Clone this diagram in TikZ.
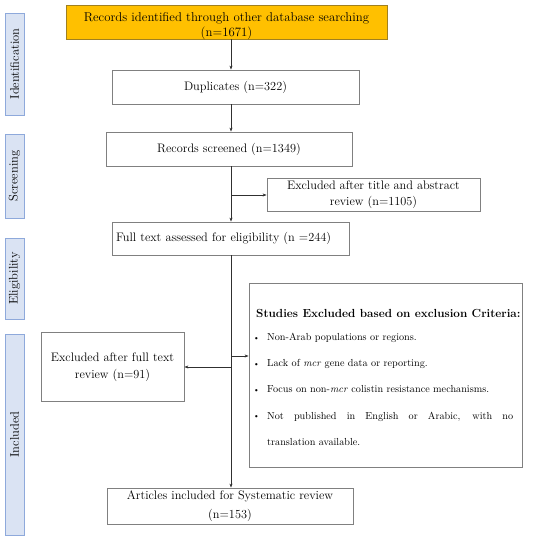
\documentclass[tikz,border=0pt]{standalone}
\usetikzlibrary{arrows.meta}
\definecolor{gold}{HTML}{FFC000}
\definecolor{goldline}{HTML}{A08020}
\definecolor{boxline}{HTML}{808080}
\definecolor{sidefill}{HTML}{DAE3F3}
\definecolor{sideline}{HTML}{8EA9DB}
\definecolor{lin}{HTML}{303030}
\begin{document}
\begin{tikzpicture}[x=1pt,y=-1pt,
  box/.style={draw=boxline,line width=0.8pt,fill=white,inner sep=0pt,align=center,font=\fontsize{12.3}{16}\selectfont},
  side/.style={draw=sideline,line width=0.8pt,fill=sidefill,inner sep=0pt},
  sidetext/.style={rotate=90,font=\fontsize{12.5}{14}\selectfont},
  arr/.style={draw=lin,line width=0.9pt,-{Stealth[length=4pt,width=3pt]}},
  crit/.style={anchor=base west,inner sep=0pt,font=\fontsize{10.2}{12}\selectfont}]
\useasboundingbox (0,0) rectangle (550,541);
% side bars
\node[side,minimum width=19pt,minimum height=102pt] (sid) at (14.5,64) {};
\node[sidetext] (sidt) at (sid.center) {Identification};
\node[side,minimum width=19pt,minimum height=84pt] (sscr) at (14.5,176) {};
\node[sidetext] (sscrt) at (sscr.center) {Screening};
\node[side,minimum width=19pt,minimum height=81pt] (sel) at (14.5,278.5) {};
\node[sidetext] (selt) at (sel.center) {Eligibility};
\node[side,minimum width=19pt,minimum height=201pt] (sin) at (14.5,434.5) {};
\node[sidetext] (sint) at (sin.center) {Included};
% trunk x
\coordinate (T) at (231,0);
% boxes
\node[box,draw=goldline,fill=gold,minimum width=321pt,minimum height=34pt] (top) at (226.5,22) {};
\node[align=center,inner sep=0pt,font=\fontsize{12.8}{14.3}\selectfont] (topt) at (226.5,26) {Records identified through other database searching\\(n=1671)};
\node[box,minimum width=247pt,minimum height=34pt] (dup) at (235.5,87) {Duplicates (n=322)};
\node[box,minimum width=246pt,minimum height=34pt] (scr) at (229,149) {Records screened (n=1349)};
\node[box,minimum width=213pt,minimum height=33pt,font=\fontsize{12.3}{16}\selectfont] (ex1) at (373.5,194.5) {Excluded after title and abstract\\review (n=1105)};
\node[box,minimum width=237pt,minimum height=33pt,text width=229pt,align=left] (full) at (230.5,238.5) {Full text assessed for eligibility (n =244)};
\node[box,minimum width=143pt,minimum height=69pt,font=\fontsize{12.3}{17}\selectfont] (ex2) at (112.5,367) {Excluded after full text\\review (n=91)};
\node[box,minimum width=273pt,minimum height=184pt] (cri) at (385.5,375) {};
\node[box,minimum width=246pt,minimum height=36pt,font=\fontsize{12.3}{18.4}\selectfont] (art) at (230,506) {Articles included for Systematic review\\(n=153)};
% criteria text
\node[crit,font=\fontsize{11.7}{13}\selectfont\bfseries] (ch) at (256,317) {Studies Excluded based on exclusion Criteria:};
\node[crit,font=\fontsize{8}{10}\selectfont] (b1) at (253,340) {\textbullet};
\node[crit] (c1) at (267,340) {Non-Arab populations or regions.};
\node[crit,font=\fontsize{8}{10}\selectfont] (b2) at (253,366.5) {\textbullet};
\node[crit] (c2) at (267,366.5) {Lack of \textit{mcr} gene data or reporting.};
\node[crit,font=\fontsize{8}{10}\selectfont] (b3) at (253,392.5) {\textbullet};
\node[crit] (c3) at (267,392.5) {Focus on non-\textit{mcr} colistin resistance mechanisms.};
\node[crit,font=\fontsize{8}{10}\selectfont] (b4) at (253,418.5) {\textbullet};
\node[anchor=north west,inner sep=0pt,text width=246pt,align=justify,font=\fontsize{10.2}{26}\selectfont] (c4) at (267,411.5) {Not published in English or Arabic, with no\linebreak translation available.};
% connectors
\draw[arr] (top.south -| T) -- (dup.north -| T);
\draw[arr] (dup.south -| T) -- (scr.north -| T);
\draw[arr] (scr.south -| T) -- (full.north -| T);
\coordinate (j1) at (231,195);
\draw[arr] (j1) -- (ex1.west |- j1);
\draw[arr] (full.south -| T) -- (art.north -| T);
\coordinate (j2) at (231,356);
\draw[arr] (j2) -- (cri.west |- j2);
\coordinate (j3) at (231,367);
\draw[arr] (j3) -- (ex2.east |- j3);
\end{tikzpicture}
\end{document}
